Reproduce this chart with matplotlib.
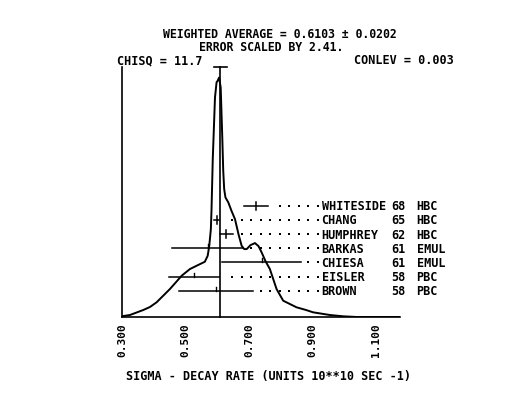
import matplotlib
matplotlib.use("Agg")
import matplotlib.pyplot as plt
import numpy as np

# ---- data ----
names = ["WHITESIDE", "CHANG", "HUMPHREY", "BARKAS", "CHIESA", "EISLER", "BROWN"]
years = ["68", "65", "62", "61", "61", "58", "58"]
techs = ["HBC", "HBC", "HBC", "EMUL", "EMUL", "PBC", "PBC"]
values = [0.722, 0.598, 0.629, 0.570, 0.740, 0.527, 0.597]
errors = [0.039, 0.009, 0.021, 0.112, 0.125, 0.080, 0.116]

wavg = 0.6103
werr = 0.0202

# ideogram curve (x = decay rate, y = relative density, arbitrary units)
curve_x = [0.299, 0.325, 0.367, 0.388, 0.409, 0.451, 0.488, 0.514, 0.546, 0.561,
           0.570, 0.575, 0.580, 0.582, 0.586, 0.593, 0.598, 0.601, 0.606, 0.611,
           0.616, 0.619, 0.622, 0.626, 0.635, 0.645, 0.656, 0.667, 0.677, 0.685,
           0.693, 0.705, 0.719, 0.730, 0.740, 0.752, 0.766, 0.787, 0.808, 0.829,
           0.850, 0.880, 0.902, 0.955, 0.997, 1.040, 1.176]
curve_y = [0.7, 2.0, 7.0, 10.0, 14.7, 28.0, 41.3, 48.0, 53.0, 55.3,
           61.3, 71.3, 88.0, 106.3, 158.0, 219.7, 235.0, 236.3, 239.7, 229.7,
           179.7, 146.3, 128.0, 119.7, 114.7, 106.3, 98.0, 83.0, 71.3, 68.0,
           68.0, 72.0, 74.0, 71.0, 64.7, 56.0, 48.0, 28.0, 16.3, 13.0,
           9.7, 7.0, 4.7, 2.0, 0.7, 0.0, 0.0]

tick_vals = [0.300, 0.500, 0.700, 0.900, 1.100]
tick_labels = ["0.300", "0.500", "0.700", "0.900", "1.100"]

title1 = "WEIGHTED AVERAGE = 0.6103 \u00b1 0.0202"
title2 = "ERROR SCALED BY 2.41."
chisq_txt = "CHISQ = 11.7"
conlev_txt = "CONLEV = 0.003"
xlabel_txt = "SIGMA - DECAY RATE (UNITS 10**10 SEC -1)"

# ---- figure ----
W, H = 528, 402
fig = plt.figure(figsize=(W / 100, H / 100), dpi=100)
ax = fig.add_axes([122 / W, (H - 318) / H, (400 - 122) / W, 250 / H])

FONT = "DejaVu Sans Mono"
tkw = dict(family=FONT, weight="bold", color="black")

ytop = 250.3
ax.set_xlim(0.300, 1.176)
ax.set_ylim(0, ytop)

ax.plot(curve_x, curve_y, color="black", lw=1.4, solid_joinstyle="round")

# weighted average line and cap
ax.plot([wavg, wavg], [0, ytop], color="black", lw=1.2, clip_on=False)
ax.plot([wavg - werr, wavg + werr], [ytop, ytop], color="black", lw=1.2, clip_on=False)

# measurements
row0, drow = 26.3, 14.17
n = len(names)
label_dot_x = 0.917
dot_step = 0.03
for i in range(n):
    y = row0 + (n - 1 - i) * drow
    v, e = values[i], errors[i]
    ax.plot([v - e, v + e], [y, y], color="black", lw=1.1, clip_on=False)
    if e < 0.05:
        ax.plot([v, v], [y - 4.0, y + 4.0], color="black", lw=1.1)
    else:
        ax.plot([v, v], [y, y + 4.0], color="black", lw=1.0)
    # leader dots
    xs = []
    k = 0
    while label_dot_x - dot_step * k >= v + e + 0.02:
        xs.append(label_dot_x - dot_step * k)
        k += 1
    ax.plot(xs, [y] * len(xs), ls="none", marker="s", ms=1.5, mew=0,
            color="black", clip_on=False)
    ax.text(0.929, y, names[i], ha="left", va="center", fontsize=8.5,
            clip_on=False, **tkw)
    ax.text(1.1495, y, years[i], ha="left", va="center", fontsize=8.5,
            clip_on=False, **tkw)
    ax.text(1.228, y, techs[i], ha="left", va="center", fontsize=8.5,
            clip_on=False, **tkw)

# axes styling
for s in ["top", "right"]:
    ax.spines[s].set_visible(False)
ax.spines["left"].set_linewidth(1.2)
ax.spines["bottom"].set_linewidth(1.2)
ax.set_yticks([])
ax.set_xticks(tick_vals)
ax.set_xticklabels(tick_labels, rotation=90, fontsize=8, family=FONT,
                   weight="bold", va="top")
ax.tick_params(axis="x", length=0, pad=4)

# texts
fig.text(280 / W, 1 - 35 / H, title1, ha="center", va="center", fontsize=8.3, **tkw)
fig.text(271 / W, 1 - 47.5 / H, title2, ha="center", va="center", fontsize=8.3, **tkw)
fig.text(116.7 / W, 1 - 61 / H, chisq_txt, ha="left", va="center", fontsize=8.5, **tkw)
fig.text(454 / W, 1 - 61 / H, conlev_txt, ha="right", va="center", fontsize=8.5, **tkw)
fig.text(268 / W, 1 - 376.7 / H, xlabel_txt, ha="center", va="center", fontsize=8.5, **tkw)

fig.savefig("out.png", dpi=100, facecolor="white")
